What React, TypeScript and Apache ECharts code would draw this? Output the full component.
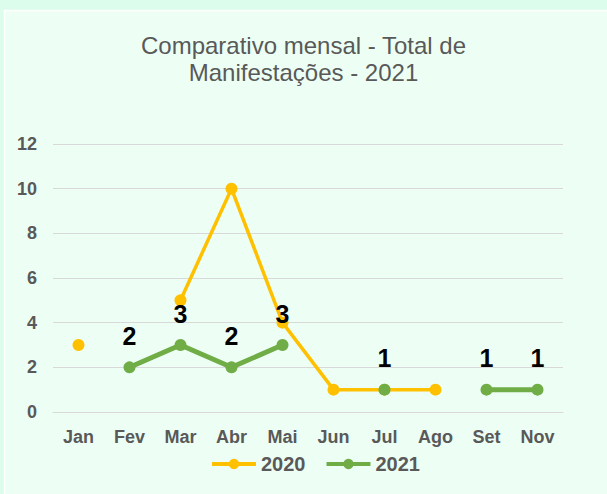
import React, { useEffect, useRef } from "react";
import * as echarts from "echarts";

const categories = ["Jan", "Fev", "Mar", "Abr", "Mai", "Jun", "Jul", "Ago", "Set", "Nov"];
const values2020: (number | null)[] = [3, null, 5, 10, 4, 1, 1, 1, null, null];
const values2021: (number | null)[] = [null, 2, 3, 2, 3, null, 1, null, 1, 1];
const seriesNames = ["2020", "2021"];
const titleText = "Comparativo mensal - Total de\nManifestações - 2021";

const FONT = "'Liberation Sans', Arial, sans-serif";
const GREY = "#595959";

export default function App() {
  const ref = useRef<HTMLDivElement>(null);
  useEffect(() => {
    document.body.style.margin = "0";
    if (!ref.current) return;
    const chart = echarts.init(ref.current, null, { renderer: "svg" });
    chart.setOption({
      animation: false,
      backgroundColor: "#dcfcec",
      textStyle: { fontFamily: FONT },
      graphic: [
        {
          type: "rect",
          z: -10,
          silent: true,
          shape: { x: 4.5, y: 10.5, width: 620, height: 500 },
          style: { fill: "#edfff4", stroke: "#ffffff", lineWidth: 1.5 },
        },
      ],
      title: {
        text: titleText,
        left: "center",
        top: 27,
        textStyle: {
          fontFamily: FONT,
          fontSize: 24,
          fontWeight: "normal",
          color: GREY,
          lineHeight: 27,
        },
      },
      legend: {
        bottom: 15,
        left: 205,
        itemWidth: 44,
        itemHeight: 13,
        itemGap: 19,
        lineStyle: { width: 4 },
        textStyle: { fontFamily: FONT, fontSize: 20, fontWeight: "bold", color: GREY },
        data: seriesNames,
      },
      grid: { left: 53, right: 44, top: 144, bottom: 82 },
      xAxis: {
        type: "category",
        data: categories,
        boundaryGap: true,
        axisLine: { show: true, lineStyle: { color: "#d9d9d9", width: 1 } },
        axisTick: { show: false },
        axisLabel: {
          margin: 16,
          fontFamily: FONT,
          fontSize: 18,
          fontWeight: "bold",
          color: GREY,
        },
      },
      yAxis: {
        type: "value",
        min: 0,
        max: 12,
        interval: 2,
        axisLine: { show: false },
        axisTick: { show: false },
        splitLine: { lineStyle: { color: "#d9d9d9", width: 1 } },
        axisLabel: {
          margin: 16,
          fontFamily: FONT,
          fontSize: 18,
          fontWeight: "bold",
          color: GREY,
        },
      },
      series: [
        {
          name: seriesNames[0],
          type: "line",
          data: values2020,
          color: "#ffc000",
          symbol: "circle",
          symbolSize: 12,
          showSymbol: true,
          lineStyle: { width: 3.5, color: "#ffc000" },
          itemStyle: { color: "#ffc000" },
          connectNulls: false,
        },
        {
          name: seriesNames[1],
          type: "line",
          data: values2021,
          color: "#70ad47",
          symbol: "circle",
          symbolSize: 12,
          showSymbol: true,
          lineStyle: { width: 5, color: "#70ad47" },
          itemStyle: { color: "#70ad47" },
          connectNulls: false,
          label: {
            show: true,
            position: "top",
            distance: 13,
            fontFamily: FONT,
            fontSize: 25,
            fontWeight: "bold",
            color: "#000000",
          },
        },
      ],
    });
    return () => chart.dispose();
  }, []);
  return <div ref={ref} style={{ width: 607, height: 494 }} />;
}
